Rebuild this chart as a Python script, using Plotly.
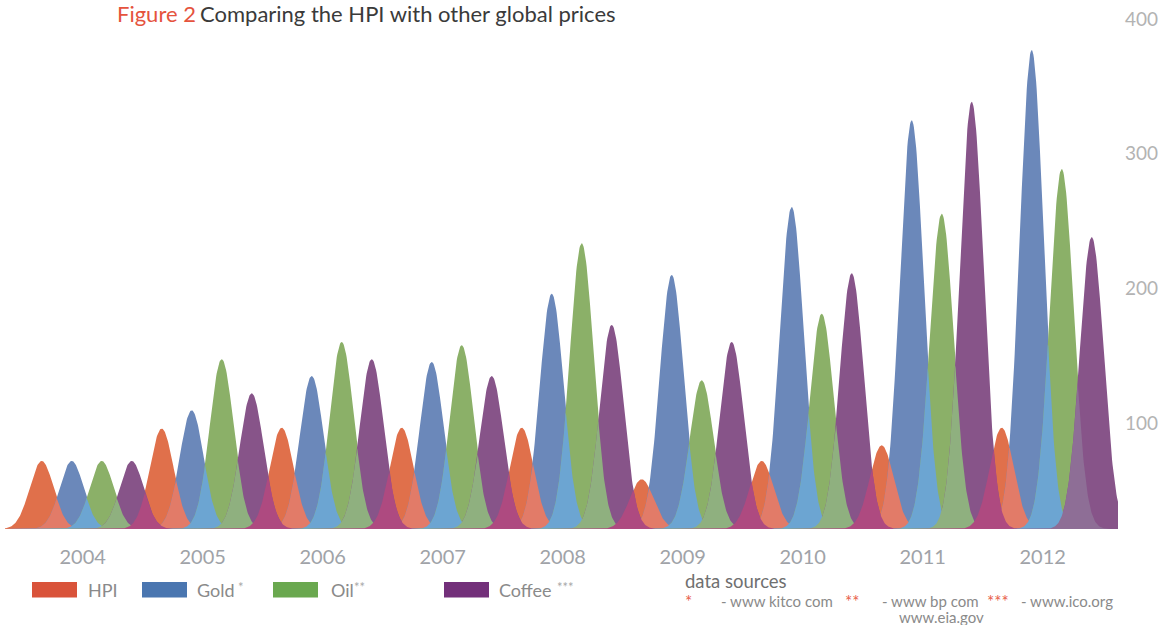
import numpy as np
import plotly.graph_objects as go

# ---------------- data ----------------
years = [2004, 2005, 2006, 2007, 2008, 2009, 2010, 2011, 2012]
year_labels = ["2004", "2005", "2006", "2007", "2008", "2009", "2010", "2011", "2012"]
series_names = ["HPI", "Gold", "Oil", "Coffee"]
hpi = [71.8, 95.8, 96.5, 96.5, 96.5, 58.2, 71.8, 83.4, 96.5]
gold = [71.8, 109.4, 134.9, 145.3, 196.0, 209.9, 260.4, 324.7, 376.9]
oil = [71.8, 147.3, 160.1, 157.7, 233.4, 131.7, 181.1, 255.4, 288.6]
coffee = [71.8, 122.0, 147.3, 134.9, 172.8, 160.1, 211.1, 338.5, 238.0]
y_ticks = [100, 200, 300, 400]

# ---------------- styling ----------------
offsets = [-0.375, -0.125, 0.125, 0.375]      # position of each series inside a year
baseline = 21.3
sigma = 0.1
peak_colors = ["#E0704B", "#6B88BA", "#8BB068", "#875489"]
legend_colors = ["#D9533A", "#4A76B0", "#6AA84F", "#73307A"]
overlap_colors = ["#E27B68", "#6CA5D2", "#8FB07F", "#AE4A80"]  # pair (k, k+1)
last_overlap_color = "#8E6E96"
FONT = "Lato"

W, H = 1173, 625
L, R, T, B = 5, 1118, 10, 529
x_min = 2004 + (L - 86.7) / 120.0
x_max = 2004 + (R - 86.7) / 120.0
y_min = baseline
y_max = baseline + (B - T) / 1.347

values = [hpi, gold, oil, coffee]

# sequence of all peaks in order
peaks = []
for yi, yr in enumerate(years):
    for k in range(4):
        peaks.append((yr + offsets[k], values[k][yi], k))


def gauss(x, c, v):
    return baseline + (v - baseline) * np.exp(-((x - c) ** 2) / (2 * sigma ** 2))


fig = go.Figure()

# peaks, one trace per series
for k in range(4):
    xs, ys = [], []
    for c, v, kk in peaks:
        if kk != k:
            continue
        x = np.linspace(c - 0.55, c + 0.55, 241)
        y = gauss(x, c, v)
        xs += list(x) + [None]
        ys += list(y) + [None]
    fig.add_trace(go.Scatter(x=xs, y=ys, mode="lines", fill="toself",
                             fillcolor=peak_colors[k], line=dict(width=0),
                             name=series_names[k], showlegend=False,
                             hoverinfo="skip"))

# overlaps between adjacent peaks
groups = {}
for i in range(len(peaks) - 1):
    c1, v1, k1 = peaks[i]
    c2, v2, k2 = peaks[i + 1]
    x = np.linspace(c1 - 0.55, c2 + 0.55, 301)
    y = np.minimum(gauss(x, c1, v1), gauss(x, c2, v2))
    col = last_overlap_color if i == len(peaks) - 2 else overlap_colors[k1]
    gx, gy = groups.setdefault(col, ([], []))
    gx += list(x) + [None]
    gy += list(y) + [None]
for col, (gx, gy) in groups.items():
    fig.add_trace(go.Scatter(x=gx, y=gy, mode="lines", fill="toself",
                             fillcolor=col, line=dict(width=0),
                             showlegend=False, hoverinfo="skip"))


def px(xp):
    return (xp - L) / (R - L)


def py(yp):
    return (B - yp) / (B - T)


shapes = []
annotations = []


def label(text, xp, yp, size, color):
    annotations.append(dict(x=px(xp), y=py(yp), xref="paper", yref="paper",
                            xanchor="left", yanchor="middle", showarrow=False,
                            text=text, font=dict(family=FONT, size=size, color=color)))


# title
label("Figure 2", 115, 14, 22, "#E5533D")
label("Comparing the HPI with other global prices", 198, 14, 22, "#3A3A3A")

# custom legend
leg_swatch_x = [32, 142, 273, 444]
leg_text_x = [86, 195, 329, 497]
leg_star_x = [None, 236, 352, 555]
leg_stars = ["", "*", "**", "***"]
for k in range(4):
    shapes.append(dict(type="rect", xref="paper", yref="paper",
                       x0=px(leg_swatch_x[k]), x1=px(leg_swatch_x[k] + 45),
                       y0=py(597.5), y1=py(582), line=dict(width=0),
                       fillcolor=legend_colors[k]))
    label(series_names[k], leg_text_x[k], 590, 18, "#8A8A8A")
    if leg_stars[k]:
        label(leg_stars[k], leg_star_x[k], 587, 13, "#A8A8A8")

# data sources
label("data sources", 683, 581, 18.5, "#707070")
label("*", 683, 601, 17, "#E8604A")
label("- www kitco com", 719, 601, 15, "#8A8A8A")
label("**", 843, 601, 17, "#E8604A")
label("- www bp com", 880, 601, 15, "#8A8A8A")
label("www.eia.gov", 897, 617, 15, "#8A8A8A")
label("***", 985, 601, 17, "#E8604A")
label("- www.ico.org", 1019, 601, 15, "#8A8A8A")

fig.update_layout(
    width=W, height=H,
    margin=dict(l=L, r=W - R, t=T, b=H - B),
    paper_bgcolor="white", plot_bgcolor="white",
    showlegend=False,
    shapes=shapes, annotations=annotations,
    xaxis=dict(range=[x_min, x_max], tickvals=years, ticktext=year_labels,
               showgrid=False, zeroline=False, showline=False, ticks="",
               tickfont=dict(family=FONT, size=20, color="#A0A3A8"),
               ticklabelshift=-4, ticklabelstandoff=14, fixedrange=True),
    yaxis=dict(range=[y_min, y_max], side="right", tickvals=y_ticks,
               showgrid=False, zeroline=False, showline=False, ticks="",
               tickfont=dict(family=FONT, size=19, color="#B3B3B3"),
               ticklabelstandoff=6, fixedrange=True),
)

fig.write_html("out.html")
